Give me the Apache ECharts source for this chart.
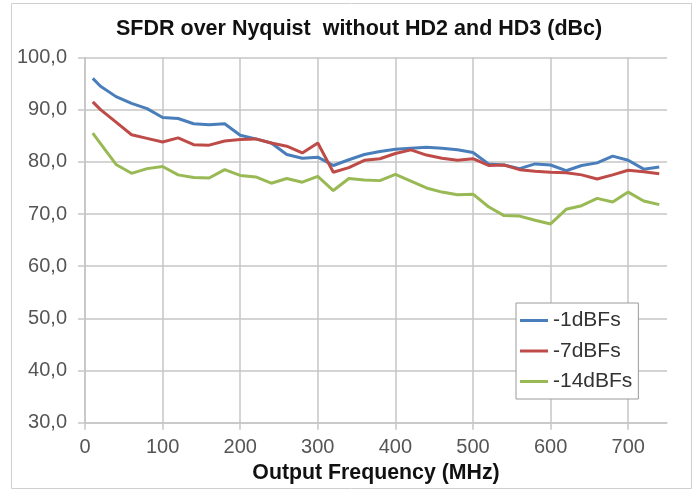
<!DOCTYPE html>
<html>
<head>
<meta charset="utf-8">
<script src="https://cdn.jsdelivr.net/npm/echarts@6/dist/echarts.min.js"></script>
<style>
  html, body { margin: 0; padding: 0; background: #fff; }
  #chart { width: 695px; height: 491px; }
</style>
</head>
<body>
<div id="chart"></div>
<script>
// output frequency (MHz)
var freqs = [10, 20, 40, 60, 80, 100, 120, 140, 160, 180, 200, 220, 240, 260, 280, 300, 320, 340, 360,
             380, 400, 420, 440, 460, 480, 500, 520, 540, 560, 580, 600, 620, 640, 660, 680, 700, 720, 740];

// SFDR (dBc) per level
var sfdr1 = [96.0, 94.5, 92.5, 91.2, 90.2, 88.5, 88.3, 87.3, 87.1, 87.3, 85.1, 84.4, 83.6, 81.4, 80.7, 80.9, 79.3, 80.4, 81.4,
             82.0, 82.4, 82.6, 82.8, 82.6, 82.3, 81.8, 79.6, 79.4, 78.7, 79.6, 79.4, 78.3, 79.3, 79.8, 81.1, 80.3, 78.6, 79.0];
var sfdr7 = [91.5, 90.0, 87.6, 85.2, 84.5, 83.8, 84.6, 83.3, 83.2, 84.0, 84.3, 84.4, 83.6, 83.0, 81.7, 83.6, 78.0, 78.9, 80.3,
             80.6, 81.6, 82.3, 81.3, 80.7, 80.3, 80.6, 79.3, 79.4, 78.5, 78.2, 78.0, 77.9, 77.5, 76.7, 77.5, 78.4, 78.1, 77.7];
var sfdr14 = [85.5, 83.5, 79.5, 77.8, 78.7, 79.1, 77.5, 77.0, 76.9, 78.5, 77.4, 77.1, 75.9, 76.8, 76.1, 77.2, 74.5, 76.8, 76.5,
              76.4, 77.6, 76.3, 75.0, 74.2, 73.7, 73.8, 71.4, 69.7, 69.6, 68.8, 68.1, 70.9, 71.6, 73.0, 72.3, 74.2, 72.5, 71.8];

var seriesNames = ['-1dBFs', '-7dBFs', '-14dBFs'];
var xTicks = [0, 100, 200, 300, 400, 500, 600, 700];

function pairs(vals) {
    var out = [];
    for (var i = 0; i < freqs.length; i++) {
        out.push([freqs[i], vals[i]]);
    }
    return out;
}

var font = 'Liberation Sans, Arial, sans-serif';
var gridColor = '#c6c6c6';

var chart = echarts.init(document.getElementById('chart'));

var option = {
    animation: false,
    backgroundColor: '#fff',
    title: {
        text: 'SFDR over Nyquist  without HD2 and HD3 (dBc)',
        left: 111,
        top: 13,
        textStyle: { fontFamily: font, fontSize: 21.5, fontWeight: 'bold', color: '#111' }
    },
    graphic: [{
        type: 'rect',
        shape: { x: 11.5, y: 3.5, width: 680, height: 485 },
        style: { fill: 'none', stroke: '#cfcfcf', lineWidth: 1 },
        silent: true
    }],
    legend: {
        orient: 'vertical',
        left: 516,
        top: 303,
        padding: [7, 6, 7, 4],
        icon: 'rect',
        itemWidth: 28,
        itemHeight: 3,
        itemGap: 9.5,
        backgroundColor: '#fff',
        borderColor: '#9a9a9a',
        borderWidth: 1,
        borderRadius: 0,
        data: seriesNames,
        textStyle: { fontFamily: font, fontSize: 21, color: '#333', lineHeight: 21 }
    },
    grid: { left: 85, right: 28, top: 57.5, bottom: 68.3 },
    xAxis: {
        type: 'value',
        min: 0,
        max: 750,
        interval: 100,
        name: 'Output Frequency (MHz)',
        nameLocation: 'middle',
        nameGap: 39,
        nameTextStyle: { fontFamily: font, fontSize: 21.3, fontWeight: 'bold', color: '#111' },
        axisLine: { show: true, lineStyle: { color: gridColor, width: 1.5 } },
        axisTick: { show: true, inside: false, length: 7, customValues: xTicks, lineStyle: { color: gridColor, width: 1.5 } },
        axisLabel: { margin: 15, customValues: xTicks, fontFamily: font, fontSize: 20, color: '#555' },
        splitLine: { show: true, lineStyle: { color: gridColor, width: 1.5 } }
    },
    yAxis: {
        type: 'value',
        min: 30,
        max: 100,
        interval: 10,
        axisLine: { show: true, lineStyle: { color: gridColor, width: 1.5 } },
        axisTick: { show: true, inside: false, length: 7, lineStyle: { color: gridColor, width: 1.5 } },
        axisLabel: {
            margin: 18,
            fontFamily: font,
            fontSize: 20,
            color: '#555',
            formatter: function (v) { return v.toFixed(1).replace('.', ','); }
        },
        splitLine: { show: true, lineStyle: { color: gridColor, width: 1.5 } }
    },
    series: [
        { name: seriesNames[0], type: 'line', symbol: 'none', data: pairs(sfdr1),
          lineStyle: { color: '#4a7ebb', width: 3 }, itemStyle: { color: '#4a7ebb' } },
        { name: seriesNames[1], type: 'line', symbol: 'none', data: pairs(sfdr7),
          lineStyle: { color: '#be4b48', width: 3 }, itemStyle: { color: '#be4b48' } },
        { name: seriesNames[2], type: 'line', symbol: 'none', data: pairs(sfdr14),
          lineStyle: { color: '#98b954', width: 3 }, itemStyle: { color: '#98b954' } }
    ]
};

chart.setOption(option);
</script>
</body>
</html>
